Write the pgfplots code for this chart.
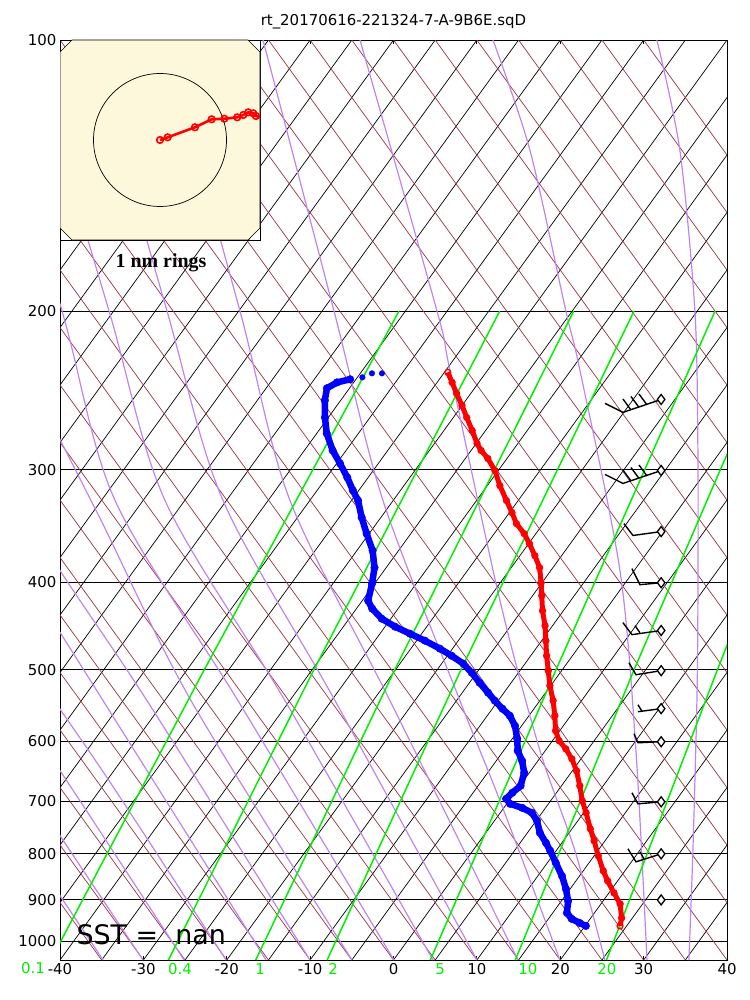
\documentclass[border=0pt]{standalone}
\usepackage{fontspec}
\setmainfont{DejaVu Sans}
\newfontfamily\timesfont{Liberation Serif}
\usepackage{pgfplots}
\usepackage{pgfplotstable}
\pgfplotsset{compat=1.18}

\definecolor{isobrown}{HTML}{993340}
\definecolor{moistpurple}{HTML}{C084F0}
\definecolor{mixgreen}{HTML}{00F000}
\definecolor{hodobg}{HTML}{FDF7DB}

\pgfplotsset{
  isoT/.style={black, line width=0.7bp, forget plot},
  dryad/.style={isobrown, line width=0.7bp, forget plot},
  moist/.style={moistpurple, line width=1.2bp, smooth, forget plot},
  mixr/.style={mixgreen, line width=1.5bp, forget plot},
  barb/.style={black, line width=1.4bp, forget plot},
}

% temperature (red) and dewpoint (blue), p in hPa, T in degC
\pgfplotstableread{
p T
962.3 24.2
942.9 23.7
909.7 22.3
884.4 20.6
857.7 18.8
836.0 17.4
804.5 15.5
774.3 13.7
750.9 12.2
720.8 10.3
699.0 8.8
672.7 7.2
647.4 5.5
627.9 3.9
612.0 2.3
599.5 0.8
584.4 -0.5
562.3 -1.9
541.2 -3.4
520.8 -5.1
501.2 -6.6
482.4 -8.1
464.2 -9.5
446.7 -10.9
430.0 -12.5
413.8 -13.9
400.3 -15.1
385.2 -16.6
373.6 -18.2
362.3 -19.9
353.1 -21.4
344.2 -23.2
334.6 -24.7
324.5 -26.4
312.3 -28.5
300.5 -30.4
291.4 -32.3
285.5 -33.8
280.4 -34.9
271.3 -36.6
262.4 -38.4
254.5 -40.0
246.8 -41.7
239.9 -43.2
233.8 -44.6
}\temptab

\pgfplotstableread{
p T
234.4 -52.4
234.4 -53.6
236.8 -54.4
238.0 -55.7
}\dewtop

\pgfplotstableread{
p T
238.0 -55.7
239.9 -57.0
243.5 -57.7
251.2 -56.9
262.4 -55.4
273.3 -53.8
285.5 -51.6
295.1 -49.6
305.9 -47.5
316.2 -45.7
324.5 -44.2
338.8 -42.3
353.1 -40.3
368.8 -38.1
385.2 -36.4
401.3 -35.3
419.0 -34.3
427.8 -33.1
438.8 -31.1
447.9 -28.8
456.0 -26.4
464.2 -24.0
473.8 -21.5
482.4 -19.5
492.3 -17.4
503.8 -15.6
516.8 -13.8
530.2 -11.9
541.2 -10.4
552.3 -8.8
562.3 -7.3
577.0 -5.8
596.5 -4.4
615.0 -3.3
631.0 -1.9
650.7 -0.6
672.7 0.1
684.8 -0.3
695.4 -0.5
704.4 0.4
711.6 2.2
720.8 3.8
735.6 5.1
758.6 6.5
778.3 8.1
794.3 9.3
818.9 11.0
847.0 12.9
875.5 14.5
902.7 15.8
930.8 16.7
945.2 17.8
955.0 19.1
962.3 20.1
}\dewtab

\begin{document}
\begin{tikzpicture}
\path[use as bounding box] (0,0) rectangle (750bp,1000bp);

\begin{axis}[
  at={(60bp,40bp)}, anchor=south west,
  scale only axis, width=667bp, height=920bp,
  xmin=-40, xmax=40, ymin=100, ymax=1050,
  ymode=log, y dir=reverse, yminorticks=false,
  xtick={-40,-30,...,40},
  xticklabels={-40,-30,-20,-10,0,10,20,30,40},
  ytick={100,200,300,400,500,600,700,800,900,1000},
  yticklabels={100,200,300,400,500,600,700,800,900,1000},
  ymajorgrids, major grid style={black, line width=0.8bp},
  tick align=inside, major tick length=4bp,
  tick style={black, line width=0.8bp},
  axis line style={black, line width=0.8bp},
  /pgf/number format/assume math mode=true,
  tick label style={font=\fontsize{15}{18}\selectfont},
  extra x ticks={-25.60,-16.01,-7.25,5.58,16.13,25.60},
  extra x tick labels={0.4,1,2,5,10,20},
  extra x tick style={major tick length=0pt, tick label style={mixgreen}},
]
% isotherms
\foreach \t in {-120,-115,...,40}{
  \pgfmathsetmacro{\u}{\t+80}
  \edef\tmp{\noexpand\addplot[isoT] coordinates {(\t,1050) (\u,100)};}
  \tmp
}
% adiabats
\foreach \t in {-120,-115,...,30}{
  \pgfmathsetmacro{\u}{\t+80}
  \edef\tmp{\noexpand\addplot[dryad] coordinates {(\t,100) (\u,1050)};}
  \tmp
}
% moist adiabats
\addplot[moist] coordinates {(31.59,100) (34.35,132.6) (36.15,200) (36.51,285.5) (36.51,419) (36.39,541.2) (35.91,794.3) (35.43,1050)};
\addplot[moist] coordinates {(11.93,100) (16.37,132.6) (20.68,200) (22.36,232.6) (27.16,388.1) (29.08,615) (30.40,1050)};
\addplot[moist] coordinates {(-4.02,100) (5.22,200) (6.77,232.6) (12.77,419) (17.57,615) (21.76,794.3) (25.36,1050)};
\addplot[moist] coordinates {(-15.65,100) (-7.13,200) (-1.26,324.5) (7.97,541.2) (12.77,698.9) (19.96,1050)};
\addplot[moist] coordinates {(-27.4,100) (-18.41,200) (-12.41,324.5) (-0.42,541.2) (14.93,1050)};
\addplot[moist] coordinates {(-36.39,100) (-27.16,200) (-20.44,324.5) (-7.01,541.2) (10.01,1050)};
\addplot[moist] coordinates {(-43.8,100) (-34.11,200) (-27.4,324.5) (-13.01,541.2) (4.74,1050)};
\addplot[moist] coordinates {(-49.5,100) (-39.75,200) (-33.39,324.5) (-18.65,541.2) (0.06,1050)};
\addplot[moist] coordinates {(-42.4,251.2) (-35.07,341.5) (-24.28,541.2) (-4.98,1050)};
\addplot[moist] coordinates {(-44.8,324.5) (-39.99,388.1) (-29.56,541.2) (-10.01,1050)};
\addplot[moist] coordinates {(-42.4,419) (-34.83,541.2) (-15.29,1050)};
\addplot[moist] coordinates {(-42.4,514.1) (-34.11,664.1) (-20.08,1050)};
\addplot[moist] coordinates {(-43.6,584.3) (-39.99,647.4) (-25.12,1050)};
\addplot[moist] coordinates {(-42.4,707.9) (-30.04,1050)};
\addplot[moist] coordinates {(-42.4,825.4) (-34.83,1050)};
% mixing ratio lines (g/kg)
\addplot[mixr] coordinates {(-41.1,1050) (-22.7,500) (0.65,200)};
\addplot[mixr] coordinates {(-27.0,1050) (-9.55,500) (12.73,200)};
\addplot[mixr] coordinates {(-16.53,1050) (0.15,500) (21.60,200)};
\addplot[mixr] coordinates {(-7.96,1050) (8.09,500) (28.84,200)};
\addplot[mixr] coordinates {(4.42,1050) (19.49,500) (38.56,200)};
\addplot[mixr] coordinates {(14.61,1050) (28.85,500) (39.19,300) (42.98,250)};
\addplot[mixr] coordinates {(25.55,1050) (38.85,500) (40.8,450)};
% wind barbs
\addplot[barb] coordinates {(32.1,250.6) (27.52,259.0) (25.36,253.1)};
\addplot[barb] coordinates {(28.48,257.4) (27.52,250.3)};
\addplot[barb] coordinates {(29.44,255.7) (28.48,248.7)};
\addplot[barb] coordinates {(30.40,254.1) (29.44,247.1)};
\addplot[barb] coordinates {(32.1,300.5) (27.52,310.6) (25.36,303.5)};
\addplot[barb] coordinates {(28.48,308.6) (27.52,300.1)};
\addplot[barb] coordinates {(29.44,306.6) (28.48,298.2)};
\addplot[barb] coordinates {(30.40,304.7) (29.44,296.3)};
\addplot[barb] coordinates {(32.1,351.3) (28.72,354.8) (27.64,344.2)};
\addplot[barb] coordinates {(32.1,400.3) (29.56,402.3) (28.60,386.2)};
\addplot[barb] coordinates {(32.1,452.3) (28.60,457.1) (27.52,443.3)};
\addplot[barb] coordinates {(29.56,454.8) (28.96,446.7)};
\addplot[barb] coordinates {(32.1,501.2) (29.08,506.4) (28.24,491.1)};
\addplot[barb] coordinates {(32.1,552.3) (29.32,556.6)};
\addplot[barb] coordinates {(29.80,555.9) (29.32,546.8)};
\addplot[barb] coordinates {(32.1,601.0) (29.32,602.6) (28.84,588.8)};
\addplot[barb] coordinates {(32.1,700.8) (29.32,704.4) (28.60,684.8)};
\addplot[barb] coordinates {(32.1,800.4) (29.08,817.0) (28.12,790.3)};
\addplot[barb] coordinates {(30.04,810.8) (29.56,796.3)};
\addplot[only marks, mark=diamond*, mark size=5bp,
  mark options={fill=white, draw=black, line width=1.3bp}, forget plot]
  coordinates {(32.1,250.6) (32.1,300.5) (32.1,351.3) (32.1,400.3) (32.1,452.3)
               (32.1,501.2) (32.1,552.3) (32.1,601.0) (32.1,700.8) (32.1,800.4) (32.1,900.4)};
% sounding
\addplot[red, line width=5bp, mark=o, mark size=3bp,
  mark options={line width=1.3bp}]
  table[x expr={\thisrow{T}+78.34*log10(1050/\thisrow{p})}, y=p] {\temptab};
\addplot[blue, only marks, mark=*, mark size=2.8bp, mark options={line width=0.4bp}]
  table[x expr={\thisrow{T}+78.34*log10(1050/\thisrow{p})}, y=p] {\dewtop};
\addplot[blue, line width=6.5bp, mark=*, mark size=3.8bp, mark options={line width=0.4bp}]
  table[x expr={\thisrow{T}+78.34*log10(1050/\thisrow{p})}, y=p] {\dewtab};
\end{axis}

% hodograph inset
\begin{axis}[
  at={(60bp,760bp)}, anchor=south west,
  scale only axis, width=200bp, height=200bp,
  xmin=-1.504, xmax=1.504, ymin=-1.504, ymax=1.504,
  ticks=none, axis line style={black, line width=0.8bp},
]
\fill[hodobg, draw=black, line width=0.6bp]
  (axis cs:-1.324,1.504) -- (axis cs:1.324,1.504) -- (axis cs:1.504,1.324)
  -- (axis cs:1.504,-1.324) -- (axis cs:1.324,-1.504) -- (axis cs:-1.324,-1.504)
  -- (axis cs:-1.504,-1.324) -- (axis cs:-1.504,1.324) -- cycle;
\draw[black, line width=0.7bp] (axis cs:0,0) circle[radius=1];
\addplot[red, line width=2.6bp, mark=o, mark size=3.3bp, mark options={line width=1.6bp}]
  coordinates {(0,0) (0.115,0.04) (0.526,0.191) (0.777,0.311) (0.967,0.320)
    (1.162,0.341) (1.253,0.376) (1.328,0.416) (1.403,0.401) (1.443,0.361) (1.514,0.341)};
\end{axis}

\node[font=\fontsize{15}{18}\selectfont] at (393.5bp,978bp) {rt\_20170616-221324-7-A-9B6E.sqD};
\node[font=\fontsize{27}{30}\selectfont, anchor=base west] at (73bp,55bp) {SST =\ \ nan};
\node[font=\timesfont\bfseries\fontsize{20}{22}\selectfont, anchor=base] at (161bp,732bp) {1 nm rings};
\node[font=\fontsize{15}{18}\selectfont, text=mixgreen] at (33bp,32bp) {0.1};
\end{tikzpicture}
\end{document}
